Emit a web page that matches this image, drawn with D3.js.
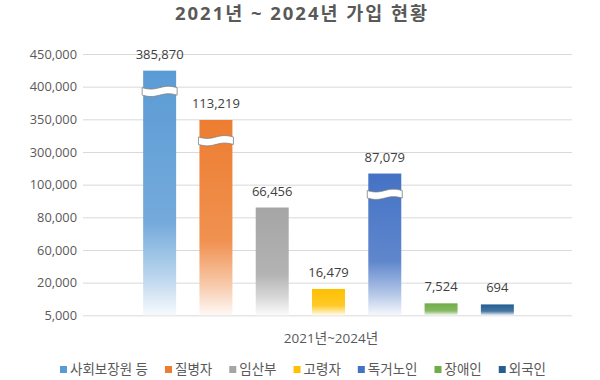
<!DOCTYPE html>
<html><head><meta charset="utf-8">
<script src="https://cdn.jsdelivr.net/npm/d3@7"></script>
<style>
html,body{margin:0;padding:0;background:#fff;}
svg{display:block;font-family:"Open Sans","Noto Sans CJK KR",sans-serif;}
</style></head>
<body><svg id="c" width="600" height="380"></svg>
<script>
// ---- data ----
const title = "2021년 ~ 2024년 가입 현황";
const xLabel = "2021년~2024년";
const categories = ["사회보장원 등","질병자","임산부","고령자","독거노인","장애인","외국인"];
const values = [385870,113219,66456,16479,87079,7524,694];          // data labels
const axisValues = [424500,349000,86000,17100,168000,10500,10000];   // bar height as drawn on the broken axis
const hasBreak = [true,true,false,false,true,false,false];
const tickValues = [5000,20000,60000,80000,100000,300000,350000,400000,450000];
const colors = ["#5B9BD5","#ED7D31","#A5A5A5","#FFC000","#4472C4","#70AD47","#255E91"];

// ---- layout ----
const svg = d3.select("#c");
const mLeft = 83, mRight = 572, mTop = 54, mBottom = 315.3;

const y = d3.scaleLinear()
  .domain(tickValues)
  .range(tickValues.map((d,i)=> mBottom - i*(mBottom-mTop)/(tickValues.length-1)));

const x = d3.scaleBand().domain(categories).range([131.5,525.5])
  .paddingInner(0.414).paddingOuter(0.207);

// gradients
const defs = svg.append("defs");
categories.forEach((c,i)=>{
  const g = defs.append("linearGradient").attr("id","g"+i)
    .attr("x1",0).attr("y1",0).attr("x2",0).attr("y2",1);
  const col = colors[i];
  const mix = t => d3.interpolateRgb(col,"#ffffff")(t);
  [[0,mix(0)],[0.62,mix(0.15)],[0.85,mix(0.6)],[1,mix(0.95)]].forEach(s=>{
    g.append("stop").attr("offset",s[0]).attr("stop-color",s[1]);
  });
});

// title
svg.append("text").attr("x",301).attr("y",20).attr("text-anchor","middle")
  .attr("font-size",18.5).attr("font-weight","bold").attr("fill","#595959")
  .attr("textLength",252).attr("lengthAdjust","spacing")
  .text(title);

// axis + gridlines
const ax = svg.append("g").attr("transform",`translate(${mLeft},0)`)
  .call(d3.axisLeft(y).tickValues(tickValues).tickFormat(d3.format(","))
    .tickSize(-(mRight-mLeft)).tickPadding(6));
ax.select(".domain").remove();
ax.selectAll(".tick line").attr("stroke","#d9d9d9").attr("stroke-width",1);
ax.selectAll(".tick text").attr("fill","#595959").attr("font-size",12.8)
  .attr("font-family","'Open Sans','Noto Sans CJK KR',sans-serif");

// bars
svg.append("g").selectAll("rect").data(categories).join("rect")
  .attr("x",d=>x(d)).attr("width",x.bandwidth())
  .attr("y",(d,i)=>y(axisValues[i]))
  .attr("height",(d,i)=>y(tickValues[0])-y(axisValues[i]))
  .attr("fill",(d,i)=>`url(#g${i})`);

// break markers
const brk = svg.append("g");
categories.forEach((c,i)=>{
  if(!hasBreak[i]) return;
  const x0 = x(c)-1, w = x.bandwidth()+2;
  const t = y(axisValues[i]) + 17, h = 7.5, a = 1.4, n = 24;
  const topPts = d3.range(n+1).map(k=>[x0+k/n*w, t + a*Math.sin(2*Math.PI*k/n)]);
  const botPts = topPts.map(p=>[p[0], p[1]+h]).reverse();
  const line = d3.line();
  brk.append("path").attr("d", line(topPts.concat(botPts))+"Z")
    .attr("fill","#fff").attr("stroke","none");
  brk.append("path").attr("d", line(topPts)).attr("fill","none").attr("stroke","#7f7f7f").attr("stroke-width",0.8);
  brk.append("path").attr("d", line(botPts)).attr("fill","none").attr("stroke","#7f7f7f").attr("stroke-width",0.8);
  brk.append("path").attr("d", line([topPts[0],botPts[botPts.length-1]])).attr("stroke","#7f7f7f").attr("stroke-width",0.8);
  brk.append("path").attr("d", line([topPts[n],botPts[0]])).attr("stroke","#7f7f7f").attr("stroke-width",0.8);
});

// data labels
svg.append("g").selectAll("text").data(categories).join("text")
  .attr("x",d=>x(d)+x.bandwidth()/2)
  .attr("y",(d,i)=>y(axisValues[i])-12)
  .attr("text-anchor","middle").attr("font-size",13).attr("fill","#404040")
  .text((d,i)=>d3.format(",")(values[i]));

// x label
svg.append("text").attr("x",331).attr("y",343).attr("text-anchor","middle")
  .attr("font-size",13.5).attr("fill","#595959").text(xLabel);

// legend
const lg = svg.append("g");
const items = categories.map((c,i)=>{
  const g = lg.append("g");
  g.append("rect").attr("x",0).attr("y",-8).attr("width",7).attr("height",7).attr("fill",colors[i]);
  const t = g.append("text").attr("x",10).attr("y",0).attr("font-size",13.5).attr("fill","#595959").text(c);
  return {g, w: 10 + t.node().getComputedTextLength()};
});
const gap = 17;
const total = d3.sum(items,d=>d.w) + gap*(items.length-1);
let cx = 303 - total/2;
items.forEach(it=>{ it.g.attr("transform",`translate(${cx},374)`); cx += it.w + gap; });
</script></body></html>
